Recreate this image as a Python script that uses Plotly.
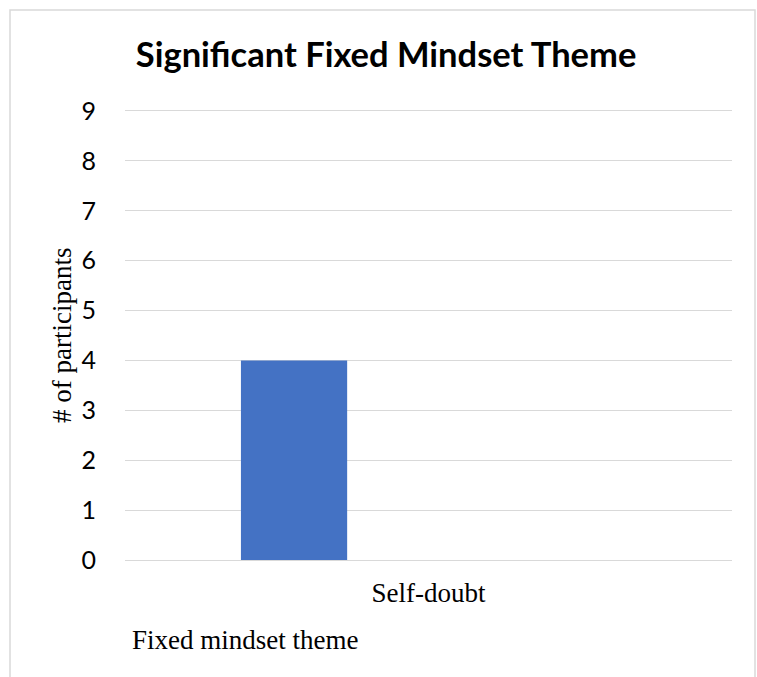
import plotly.graph_objects as go

# Chart data
categories = ["Self-doubt"]
participants = [4]
y_ticks = list(range(0, 10))

title_text = "Significant Fixed Mindset Theme"
y_title = "# of participants"
x_title = "Fixed mindset theme"

SANS = "Lato, 'Open Sans', sans-serif"
SERIF = "'Liberation Serif', 'Times New Roman', serif"

TOP = 108  # top margin; y range extends slightly past 9 so the 9 gridline shows
Y_MAX = 9.06

fig = go.Figure(
    go.Bar(
        x=categories,
        y=participants,
        marker=dict(color="#4472C4", line=dict(width=0)),
        width=0.175,
        offset=-0.309,
        hoverinfo="x+y",
    )
)

fig.update_layout(
    width=757,
    height=677,
    margin=dict(l=125, r=25, t=TOP, b=117),
    paper_bgcolor="white",
    plot_bgcolor="white",
    showlegend=False,
    title=dict(
        text=title_text,
        font=dict(family=SANS, size=34.5, color="black", weight="bold"),
        x=0.51,
        xanchor="center",
        y=1 - 55 / 677,
        yanchor="middle",
    ),
    xaxis=dict(
        type="category",
        range=[-0.5, 0.5],
        showgrid=False,
        showline=False,
        zeroline=False,
        ticks="",
        tickfont=dict(family=SERIF, size=27, color="black"),
        ticklabelstandoff=14,
    ),
    yaxis=dict(
        range=[0, Y_MAX],
        tickvals=y_ticks,
        showgrid=True,
        gridcolor="#d9d9d9",
        gridwidth=1.3,
        zeroline=True,
        zerolinecolor="#d9d9d9",
        zerolinewidth=1.3,
        showline=False,
        ticks="",
        tickfont=dict(family=SANS, size=25, color="black"),
        ticklabelstandoff=28,
    ),
)

plot_h = 677 - TOP - 117

# Axis titles placed as text annotations
fig.add_annotation(
    text=y_title,
    xref="paper", yref="paper",
    x=-0.1038, y=(560 - 335) / plot_h,
    xanchor="center", yanchor="middle",
    textangle=-90,
    showarrow=False,
    font=dict(family=SERIF, size=27, color="black"),
)
fig.add_annotation(
    text=x_title,
    xref="paper", yref="paper",
    x=(130 - 125) / 607, y=(560 - 640) / plot_h,
    xanchor="left", yanchor="middle",
    showarrow=False,
    font=dict(family=SERIF, size=27, color="black"),
)

# Chart area border
fig.add_shape(
    type="rect",
    xref="paper", yref="paper",
    x0=(10 - 125) / 607, x1=(755 - 125) / 607,
    y0=(560 - 720) / plot_h, y1=(560 - 10) / plot_h,
    line=dict(color="#d9d9d9", width=1.5),
    fillcolor="rgba(0,0,0,0)",
    layer="below",
)

fig.write_html("out.html")
